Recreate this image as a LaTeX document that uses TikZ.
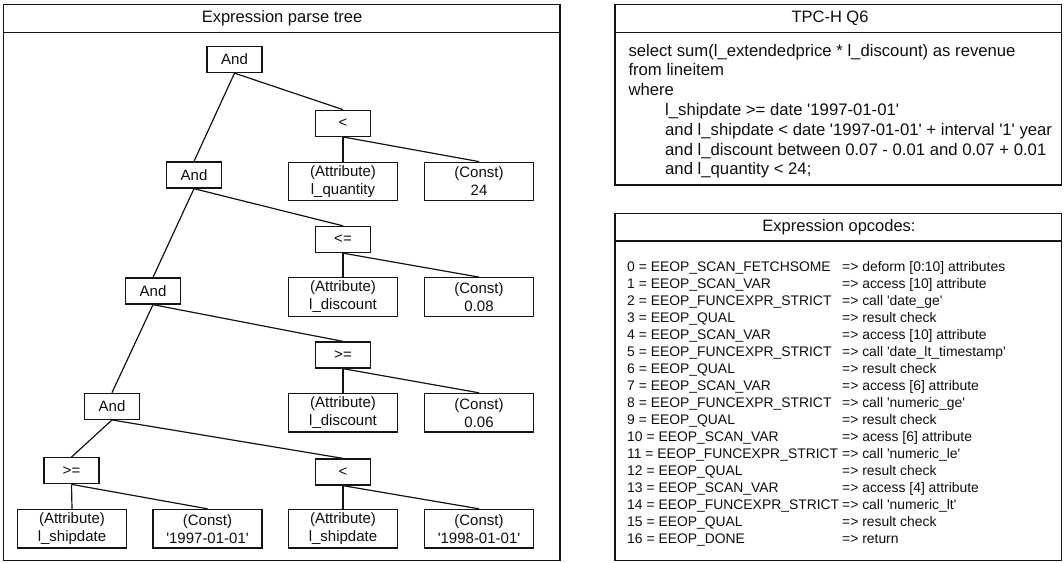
\documentclass[tikz,border=0pt]{standalone}
\usepackage{fontspec}
\setmainfont{Liberation Sans}
\usetikzlibrary{positioning}
\definecolor{lineclr}{RGB}{20,20,20}
\definecolor{txtclr}{RGB}{15,15,15}
\tikzset{
  opbox/.style={rectangle,draw=lineclr,line width=1.3pt,fill=white,
    minimum width=55pt,minimum height=26pt,inner sep=0pt,
    font=\fontsize{15}{18}\selectfont,text=txtclr},
  leafbox/.style={opbox,minimum width=109pt,minimum height=38.5pt,align=center},
  tline/.style={draw=lineclr,line width=1.2pt},
  panel/.style={draw=lineclr,line width=1.3pt},
  hdr/.style={font=\fontsize{16.5}{19}\selectfont,text=txtclr,inner sep=0pt},
  sqltxt/.style={font=\fontsize{16.7}{19.8}\selectfont,text=txtclr,inner sep=0pt},
  optxt/.style={font=\fontsize{13.9}{17}\selectfont,text=txtclr,inner sep=0pt},
}
\newcommand{\sq}{\textquotesingle}
\newcommand{\opline}[2]{\makebox[215pt][l]{#1}#2\\}

\begin{document}
\begin{tikzpicture}[x=1pt,y=-1pt]
  \useasboundingbox (0,0) rectangle (1064,562);
  % panels
  \draw[panel] (3.5,4.7) rectangle (560,560.5);
  \draw[panel] (3.5,32.3) -- (560,32.3);
  \draw[panel] (615,4.7) rectangle (1061.7,185);
  \draw[panel] (615,32.3) -- (1061.7,32.3);
  \draw[panel] (615,213.3) rectangle (1061.7,560.5);
  \draw[panel] (615,241) -- (1061.7,241);
  \node[hdr] (treetitle) at (282,18.5) {Expression parse tree};
  \node[hdr] (qtitle) at (830,18.5) {TPC-H Q6};
  \node[hdr] (optitle) at (839,227) {Expression opcodes:};
  % top And and l_quantity < 24
  \node[opbox] (and1) at (234.5,59.5) {And};
  \node[opbox] (lt1) at (343,123.3) {<};
  \node[leafbox] (attrq) at (343,181.5) {(Attribute)\\l\_quantity};
  \node[leafbox] (cst24) at (479,181.5) {(Const)\\24};
  % l_discount <= 0.08
  \node[opbox] (and2) at (194,175) {And};
  \node[opbox] (le1) at (343,239.5) {<=};
  \node[leafbox] (attrd1) at (343,297) {(Attribute)\\l\_discount};
  \node[leafbox] (cst08) at (479,297) {(Const)\\0.08};
  % l_discount >= 0.06
  \node[opbox] (and3) at (153,291) {And};
  \node[opbox] (ge1) at (343,355) {>=};
  \node[leafbox] (attrd2) at (343,412.7) {(Attribute)\\l\_discount};
  \node[leafbox] (cst06) at (479,412.7) {(Const)\\0.06};
  % l_shipdate range
  \node[opbox] (and4) at (112,406.3) {And};
  \node[opbox] (ge2) at (71.5,470.7) {>=};
  \node[leafbox] (attrs1) at (72,528.7) {(Attribute)\\l\_shipdate};
  \node[leafbox] (cst97) at (207.5,528.7) {(Const)\\\sq1997-01-01\sq};
  \node[opbox] (lt2) at (343,472) {<};
  \node[leafbox] (attrs2) at (343,528.7) {(Attribute)\\l\_shipdate};
  \node[leafbox] (cst98) at (479,528.7) {(Const)\\\sq1998-01-01\sq};
  % tree edges
  \draw[tline] (and1.south) -- (and2.north);
  \draw[tline] (and1.south) -- (lt1.north);
  \draw[tline] (lt1.south) -- (attrq.north);
  \draw[tline] (lt1.south) -- (cst24.north);
  \draw[tline] (and2.south) -- (and3.north);
  \draw[tline] (and2.south) -- (le1.north);
  \draw[tline] (le1.south) -- (attrd1.north);
  \draw[tline] (le1.south) -- (cst08.north);
  \draw[tline] (and3.south) -- (and4.north);
  \draw[tline] (and3.south) -- (ge1.north);
  \draw[tline] (ge1.south) -- (attrd2.north);
  \draw[tline] (ge1.south) -- (cst06.north);
  \draw[tline] (and4.south) -- (ge2.north);
  \draw[tline] (and4.south) -- (lt2.north);
  \draw[tline] (ge2.south) -- (attrs1.north);
  \draw[tline] (ge2.south) -- (cst97.north);
  \draw[tline] (lt2.south) -- (attrs2.north);
  \draw[tline] (lt2.south) -- (cst98.north);
  % query text
  \node[sqltxt,anchor=base west] (query) at (628.3,56) {\begin{tabular}[t]{@{}l@{}}
    select sum(l\_extendedprice * l\_discount) as revenue\\
    from lineitem\\
    where\\
    \hspace*{36.7pt}l\_shipdate >= date \sq1997-01-01\sq\\
    \hspace*{36.7pt}and l\_shipdate < date \sq1997-01-01\sq{} + interval \sq1\sq{} year\\
    \hspace*{36.7pt}and l\_discount between 0.07 - 0.01 and 0.07 + 0.01\\
    \hspace*{36.7pt}and l\_quantity < 24;
  \end{tabular}};
  % opcode list
  \node[optxt,anchor=base west] (opcodes) at (627,271.7) {\begin{tabular}[t]{@{}l@{}}
    \opline{0 = EEOP\_SCAN\_FETCHSOME}{=> deform [0:10] attributes}
    \opline{1 = EEOP\_SCAN\_VAR}{=> access [10] attribute}
    \opline{2 = EEOP\_FUNCEXPR\_STRICT}{=> call \sq date\_ge\sq}
    \opline{3 = EEOP\_QUAL}{=> result check}
    \opline{4 = EEOP\_SCAN\_VAR}{=> access [10] attribute}
    \opline{5 = EEOP\_FUNCEXPR\_STRICT}{=> call \sq date\_lt\_timestamp\sq}
    \opline{6 = EEOP\_QUAL}{=> result check}
    \opline{7 = EEOP\_SCAN\_VAR}{=> access [6] attribute}
    \opline{8 = EEOP\_FUNCEXPR\_STRICT}{=> call \sq numeric\_ge\sq}
    \opline{9 = EEOP\_QUAL}{=> result check}
    \opline{10 = EEOP\_SCAN\_VAR}{=> acess [6] attribute}
    \opline{11 = EEOP\_FUNCEXPR\_STRICT}{=> call \sq numeric\_le\sq}
    \opline{12 = EEOP\_QUAL}{=> result check}
    \opline{13 = EEOP\_SCAN\_VAR}{=> access [4] attribute}
    \opline{14 = EEOP\_FUNCEXPR\_STRICT}{=> call \sq numeric\_lt\sq}
    \opline{15 = EEOP\_QUAL}{=> result check}
    \opline{16 = EEOP\_DONE}{=> return}
  \end{tabular}};
\end{tikzpicture}
\end{document}
